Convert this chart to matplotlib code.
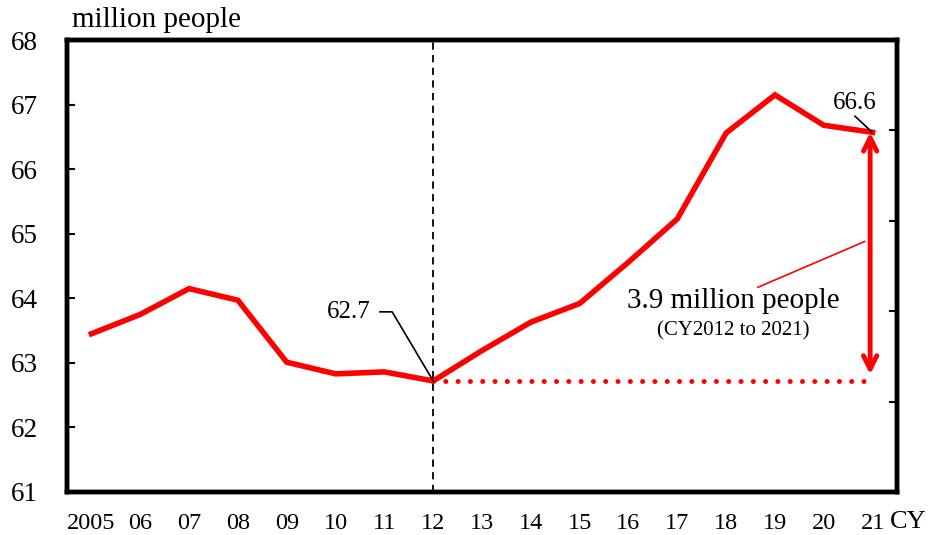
import matplotlib.pyplot as plt

plt.rcParams['font.family'] = ['Liberation Serif', 'DejaVu Serif']

years = ['2005', '06', '07', '08', '09', '10', '11', '12', '13',
         '14', '15', '16', '17', '18', '19', '20', '21']
employed = [63.45, 63.75, 64.15, 63.97, 63.01, 62.83, 62.86, 62.72, 63.19,
            63.63, 63.92, 64.56, 65.23, 66.56, 67.15, 66.68, 66.57]
base_year = 7   # index of CY2012
end_year = 16   # index of CY2021

x = list(range(len(years)))

fig = plt.figure(figsize=(9.49, 5.35), dpi=100)
ax = fig.add_axes([0.0706, 0.0804, 0.8746, 0.8448])

ax.plot(x, employed, color='#ff0000', lw=4, solid_joinstyle='miter', zorder=3)

# dashed reference line at CY2012
ax.axvline(base_year, color='black', lw=1.3, ls=(0, (4, 3)), zorder=2)

# dotted level line from 2012 to 2021
ax.plot([base_year, end_year - 0.12], [employed[base_year], employed[base_year]],
        color='#ff0000', lw=3.6, ls=(0, (0.01, 2.45)), dash_capstyle='round', zorder=3)

# double arrow showing increase
ax.annotate('', xy=(end_year - 0.05, employed[end_year]),
            xytext=(end_year - 0.05, employed[base_year] + 0.1),
            arrowprops=dict(arrowstyle='<->', color='#ff0000', lw=3.5,
                            mutation_scale=24, shrinkA=0, shrinkB=0), zorder=4)

# value labels with leader lines
ax.text(5.72, 63.79, '62.7', fontsize=18, ha='right', va='center')
ax.plot([5.91, 6.16, base_year], [63.79, 63.79, employed[base_year]],
        color='black', lw=1.2, zorder=4)
ax.text(15.64, 67.03, '66.6', fontsize=18, ha='center', va='center')
ax.plot([15.64, 15.98], [66.82, 66.58], color='black', lw=1.2, zorder=4)

# change annotation
ax.plot([13.65, 15.84], [64.17, 64.88], color='#ff0000', lw=1.2)
ax.text(13.15, 63.96, '3.9 million people', fontsize=21, ha='center', va='center')
ax.text(13.15, 63.5, '(CY2012 to 2021)', fontsize=15, ha='center', va='center')

ax.set_xlim(-0.5, 16.5)
ax.set_ylim(61, 68)
ax.set_xticks(x)
ax.set_xticklabels(years, fontsize=17.5)
ax.set_yticks(range(61, 69))
ax.tick_params(axis='y', labelsize=19.5, direction='in', length=6, width=1.5, pad=21)
ax.tick_params(axis='x', length=0, pad=15)

for s in ax.spines.values():
    s.set_linewidth(3.2)

# unlabeled right-hand scale ticks
ax2 = ax.twinx()
ax2.set_ylim(0, 5)
ax2.set_yticks(range(0, 6))
ax2.set_yticklabels([])
ax2.tick_params(axis='y', direction='in', length=6, width=1.5)
for s in ax2.spines.values():
    s.set_linewidth(3.2)

fig.text(0.076, 0.962, 'million people', fontsize=21, ha='left', va='center')
fig.text(0.938, 0.024, 'CY', fontsize=19, ha='left', va='center')

plt.savefig('out.png', dpi=100)
